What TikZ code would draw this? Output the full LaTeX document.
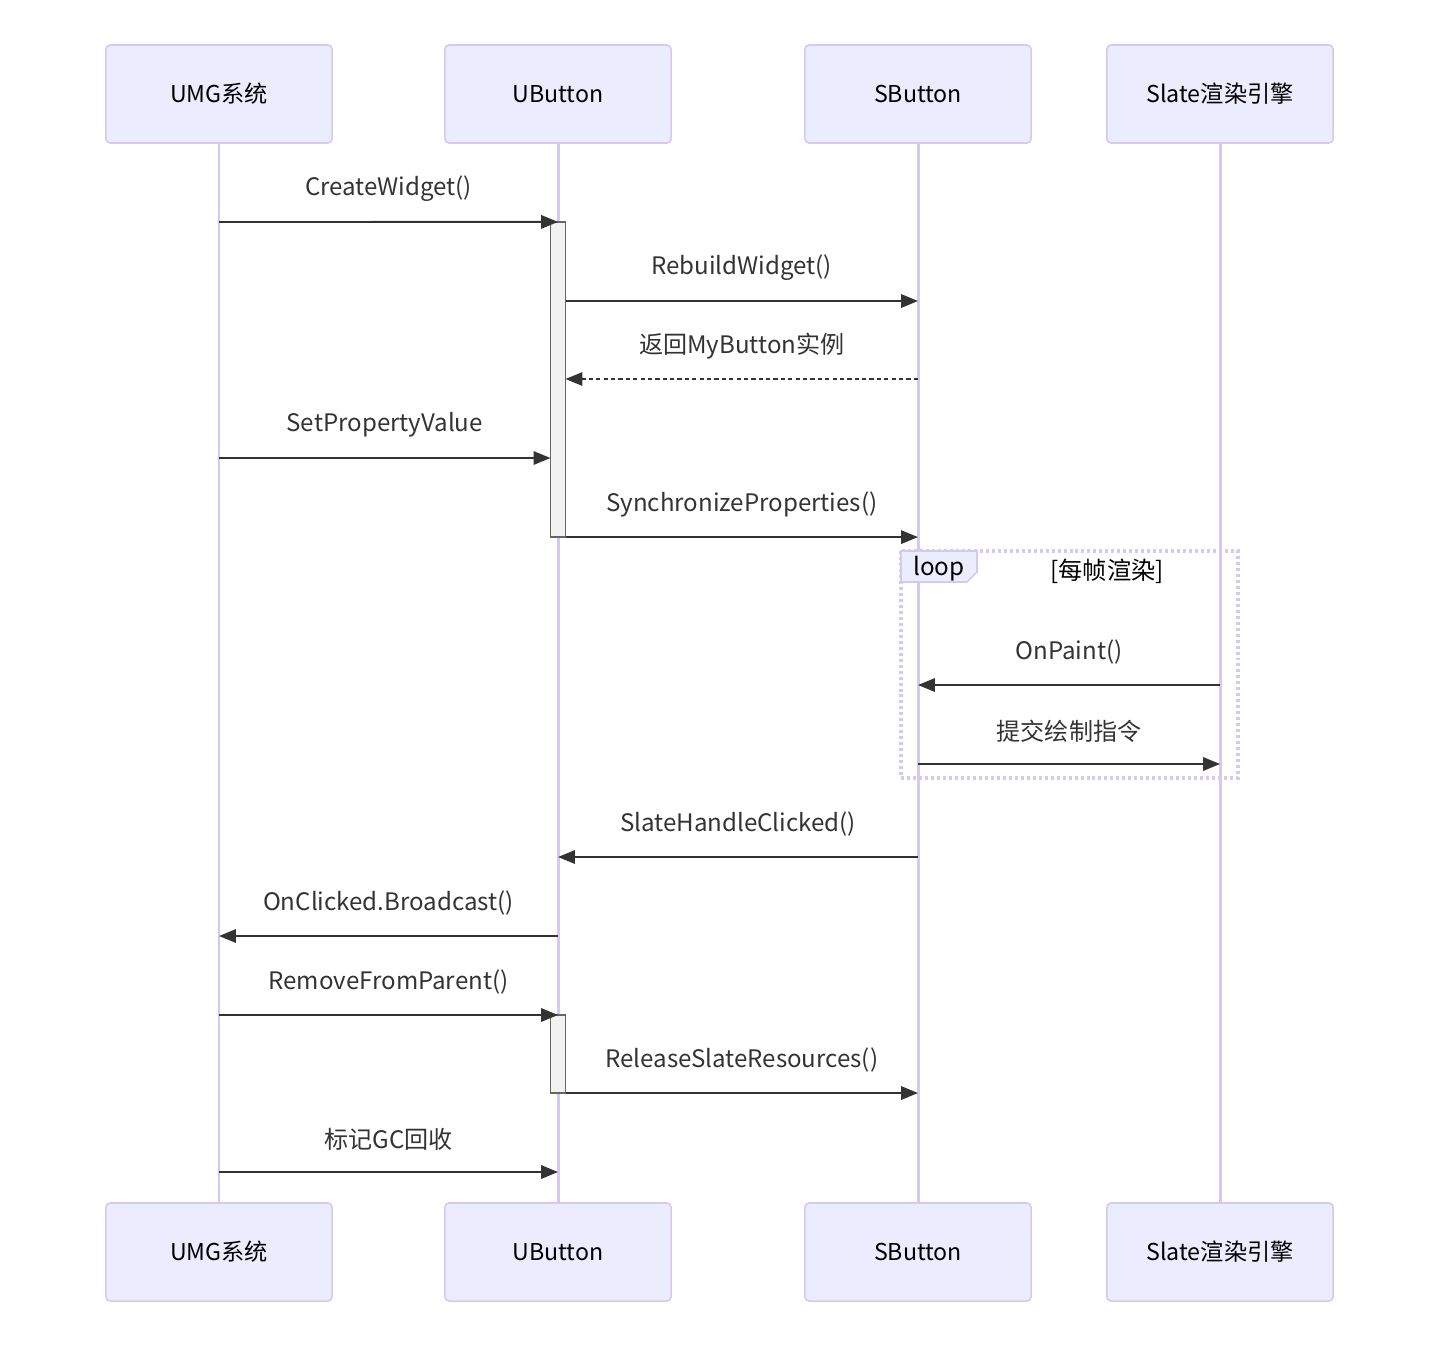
\documentclass[tikz,border=0pt]{standalone}
\usepackage{fontspec}
\setmainfont{Noto Sans CJK SC}
\usetikzlibrary{arrows.meta}

\definecolor{actfill}{HTML}{ECECFF}
\definecolor{actline}{HTML}{D5C9F2}
\definecolor{msgcol}{HTML}{333333}

\tikzset{
    actor/.style={draw=actline,fill=actfill,line width=0.45pt,rounded corners=1.2pt,
        minimum width=2.26cm,minimum height=0.98cm,font=\fontsize{6.6pt}{7.8pt}\selectfont},
    lifeline/.style={actline,line width=0.85pt},
    actbar/.style={draw=black!60,fill=black!5,line width=0.4pt,minimum width=0.15cm,inner sep=0pt,outer sep=0pt},
    msg/.style={msgcol,line width=0.55pt,-{Triangle[length=4.8pt,width=3.8pt]}},
    reply/.style={msg,dash pattern=on 1.2pt off 0.9pt},
    msglabel/.style={midway,yshift=0.33cm,text=msgcol,font=\fontsize{6.85pt}{8pt}\selectfont},
    looptext/.style={font=\fontsize{6.9pt}{8pt}\selectfont},
    loopframe/.style={actline,line width=0.9pt,dash pattern=on 0.85pt off 0.85pt},
}

\begin{document}
\begin{tikzpicture}[x=0.01cm,y=-0.01cm]
            \useasboundingbox (0,0) rectangle (1440,1348);

            % participants, top and bottom
            \node[actor] (umg) at (219,94){UMG系统};
            \node[actor] (ubtn) at (558,94){UButton};
            \node[actor] (sbtn) at (918,94){SButton};
            \node[actor] (slate) at (1220,94){Slate渲染引擎};
            \node[actor] (umgB) at (219,1252){UMG系统};
            \node[actor] (ubtnB) at (558,1252){UButton};
            \node[actor] (sbtnB) at (918,1252){SButton};
            \node[actor] (slateB) at (1220,1252){Slate渲染引擎};

            \draw[lifeline] (umg)--(umgB);
            \draw[lifeline] (ubtn)--(ubtnB);
            \draw[lifeline] (sbtn)--(sbtnB);
            \draw[lifeline] (slate)--(slateB);

            % loop frame
            \draw[loopframe] (901,551) rectangle (1238,778);
            \draw[draw=actline,fill=actfill,line width=0.45pt] (901,551)--(977,551)--(977,572)--(967,582)--(901,582)--cycle;
            \node[looptext] (looptag) at (939,569){loop};
            \node[looptext] (loopcond) at (1107,571){[每帧渲染]};

            % activations of UButton
            \node[actbar,minimum height=3.15cm] (act1) at (558,379.5){};
            \node[actbar,minimum height=0.78cm] (act2) at (558,1054){};

            % messages
            \draw[msg] (umg |- 0,222)--node[msglabel]{CreateWidget()}(ubtn |- act1.north);
            \draw[msg] (act1.east |- 0,301)--node[msglabel]{RebuildWidget()}(sbtn |- 0,301);
            \draw[reply] (sbtn |- 0,379)--node[msglabel]{返回MyButton实例}(act1.east |- 0,379);
            \draw[msg] (umg |- 0,458)--node[msglabel]{SetPropertyValue}(act1.west |- 0,458);
            \draw[msg] (act1.south east)--node[msglabel]{SynchronizeProperties()}(sbtn |- act1.south);
            \draw[msg] (slate |- 0,685)--node[msglabel]{OnPaint()}(sbtn |- 0,685);
            \draw[msg] (sbtn |- 0,764)--node[msglabel]{提交绘制指令}(slate |- 0,764);
            \draw[msg] (sbtn |- 0,857)--node[msglabel]{SlateHandleClicked()}(ubtn |- 0,857);
            \draw[msg] (ubtn |- 0,936)--node[msglabel]{OnClicked.Broadcast()}(umg |- 0,936);
            \draw[msg] (umg |- 0,1015)--node[msglabel]{RemoveFromParent()}(ubtn |- act2.north);
            \draw[msg] (act2.south east)--node[msglabel]{ReleaseSlateResources()}(sbtn |- act2.south);
            \draw[msg] (umg |- 0,1172)--node[msglabel]{标记GC回收}(ubtn |- 0,1172);
        \end{tikzpicture}
\end{document}
